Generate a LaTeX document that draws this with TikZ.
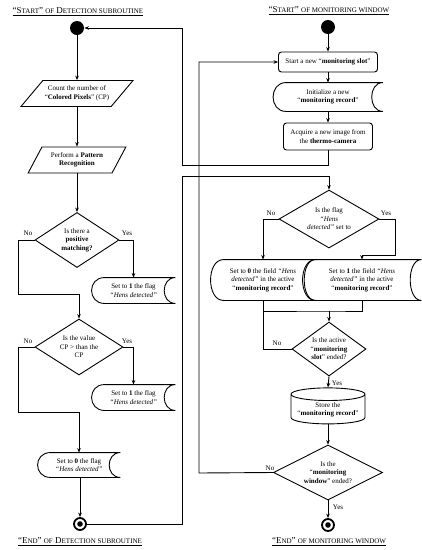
\documentclass[tikz,border=0pt]{standalone}
\usepackage{fontspec}
\setmainfont{Liberation Serif}
\usepackage{tikz}
\usetikzlibrary{shapes.geometric,arrows.meta}

% small capitals by hand (Liberation Serif has none)
\newcommand{\smc}[1]{{\fontsize{7}{8}\selectfont #1}}

\begin{document}
\begin{tikzpicture}[x=1pt,y=-1pt,
  font=\fontsize{7}{8.5}\selectfont, line width=0.9pt,
  flow/.style={-{Stealth[length=4.5pt,width=3.6pt]}},
  title/.style={font=\fontsize{9}{10}\selectfont, inner sep=0pt},
  startnode/.style={circle, fill, minimum size=14pt, inner sep=0pt},
  endnode/.style={circle, draw, line width=1.8pt, minimum size=12pt, inner sep=0pt,
    path picture={\fill (path picture bounding box.center) circle (2.8pt);}},
  io/.style={trapezium, draw, inner ysep=5.5pt, align=center},
  act/.style={rectangle, rounded corners=3pt, draw, align=center, inner sep=2pt},
  stored/.style={align=center, inner sep=0pt},
  decision/.style={diamond, draw, aspect=1.5, align=center, inner sep=0pt},
  store/.style={cylinder, draw, shape border rotate=90, aspect=0.2, align=center, inner sep=1pt},
  lbl/.style={inner sep=1pt}]
  \useasboundingbox (0,0) rectangle (422,550);
  % --- titles ---
  \node[title] (tD) at (78,12)  {\underline{“S\smc{TART}” \smc{OF} D\smc{ETECTION SUBROUTINE}}};
  \node[title] (tM) at (329,11) {\underline{“S\smc{TART}” \smc{OF MONITORING WINDOW}}};
  \node[title] (eD) at (80,542) {\underline{“E\smc{ND}” \smc{OF} D\smc{ETECTION SUBROUTINE}}};
  \node[title] (eM) at (329,542) {\underline{“E\smc{ND}” \smc{OF MONITORING WINDOW}}};
  % --- detection subroutine (left column) ---
  \node[startnode] (sD) at (77,28) {};
  \node[io, trapezium left angle=50, trapezium right angle=130, inner xsep=2pt]
    (count) at (77,93.5) {Count the number of\\“\textbf{Colored Pixels}” (CP)};
  \node[io, trapezium left angle=62, trapezium right angle=118, inner xsep=9pt]
    (pattern) at (77,160) {Perform a \textbf{Pattern}\\\textbf{Recognition}};
  \node[decision, minimum width=84pt, minimum height=55pt] (pos) at (77,240)
    {Is there a\\\textbf{positive}\\\textbf{matching?}};
  \node[stored, minimum width=83pt, minimum height=25pt] (flagA) at (133.5,290.5)
    {Set to \textbf{1} the flag\\\textit{“Hens detected”}};
  \node[decision, minimum width=88pt, minimum height=56pt] (cp) at (79,347)
    {Is the value\\CP > than the\\CP};
  \node[stored, minimum width=83pt, minimum height=25pt] (flagB) at (133.5,397.5)
    {Set to \textbf{1} the flag\\\textit{“Hens detected”}};
  \node[stored, minimum width=82pt, minimum height=24pt] (flagC) at (79,465)
    {Set to \textbf{0} the flag\\\textit{“Hens detected”}};
  \node[endnode] (fD) at (80,524) {};
  % branch labels
  \node[lbl] (noA) at (28,233) {No};
  \node[lbl] (yesA) at (127,233) {Yes};
  \node[lbl] (noB) at (28,341) {No};
  \node[lbl] (yesB) at (127,341) {Yes};
  % --- monitoring window (right column) ---
  \node[startnode] (sM) at (328,27) {};
  \node[act, minimum width=99pt, minimum height=20pt] (slot) at (328,62)
    {Start a new “\textbf{monitoring slot}”};
  \node[stored, minimum width=109pt, minimum height=28pt] (rec) at (328,97)
    {Initialize a new\\“\textbf{monitoring record}”};
  \node[act, minimum width=89pt, minimum height=27pt] (acq) at (328,136.5)
    {Acquire a new image from\\the \textbf{thermo-camera}};
  \node[decision, minimum width=100pt, minimum height=58pt] (flagq) at (329,219)
    {Is the flag\\\textit{“Hens}\\\textit{detected”} set to};
  \node[stored, minimum width=104pt, minimum height=40pt] (fz) at (263,280)
    {Set to \textbf{0} the field \textit{“Hens}\\\textit{detected”} in the active\\“\textbf{monitoring record}”};
  \node[stored, minimum width=118pt, minimum height=40pt] (fo) at (362,280)
    {Set to \textbf{1} the field \textit{“Hens}\\\textit{detected”} in the active\\“\textbf{monitoring record}”};
  \node[decision, minimum width=74pt, minimum height=54pt] (slotq) at (329,349)
    {Is the active\\“\textbf{monitoring}\\\textbf{slot}” ended?};
  \node[store, minimum width=74pt, minimum height=36pt] (save) at (328,410)
    {Store the\\“\textbf{monitoring record}”};
  \node[decision, minimum width=109pt, minimum height=55pt] (winq) at (328,472.5)
    {Is the\\“\textbf{monitoring}\\\textbf{window}” ended?};
  \node[endnode] (fM) at (328,525) {};
  % branch labels
  \node[lbl] (noF) at (271,213) {No};
  \node[lbl] (yesF) at (386,213) {Yes};
  \node[lbl] (noS) at (277,343) {No};
  \node[lbl] (yesS) at (337,383) {Yes};
  \node[lbl] (noW) at (270,468) {No};
  \node[lbl] (yesW) at (338,507) {Yes};
  % stored data outlines: bulge on the left, hollow on the right
  \foreach \n in {flagA,flagB,flagC,rec,fz,fo}
    \draw ([xshift=13pt]\n.north west) -- (\n.north east)
      .. controls ([xshift=-15pt]\n.north east) and ([xshift=-15pt]\n.south east) .. (\n.south east)
      -- ([xshift=13pt]\n.south west)
      .. controls ([xshift=-4.3pt]\n.south west) and ([xshift=-4.3pt]\n.north west) .. cycle;
  % bends
  \coordinate (jA) at (18,294);
  \coordinate (jB) at (18,412);
  \coordinate (lD) at (182,165);
  \coordinate (lE) at (182,176);
  \coordinate (lW) at (199,473);
  \coordinate (jY) at (395,255);
  \coordinate (jM) at (329,311);
  % --- connectors, left column ---
  \draw[flow] (sD.south) -- (sD.south |- count.north);
  \draw[flow] (count.south -| sD) -- (pattern.north -| sD);
  \draw[flow] (pattern.south -| sD) -- (pos.north);
  \draw[flow] (pos.east) -| (flagA.north);
  \draw[flow] (pos.west) -| (jA) -| (cp.north);
  \draw[flow] (cp.east) -| (flagB.north);
  \draw[flow] (cp.west) -| (jB) -| (flagC.north);
  \draw[flow] (flagC.south -| fD) -- (fD.north);
  % --- connectors, right column ---
  \draw[flow] (sM) -- (slot);
  \draw[flow] (slot) -- (rec);
  \draw[flow] (rec) -- (acq);
  \draw[flow] (acq.south) |- (lD) |- (sD.east);
  \draw[flow] (fD.east) -| (lE) -| (flagq.north);
  \draw[flow] (flagq.west) -| (fz.north);
  \draw[flow] (flagq.east) -| (jY) -| (fo.north);
  \draw (fz.south) |- (jM) -| (fo.south);
  \draw[flow] (jM) -- (slotq.north);
  \draw (slotq.west) -| (fz.south);
  \draw[flow] (slotq.south) -- (save.north);
  \draw[flow] (save) -- (winq);
  \draw[flow] (winq.west) -- (lW) |- (slot.west);
  \draw[flow] (winq) -- (fM);
\end{tikzpicture}
\end{document}
